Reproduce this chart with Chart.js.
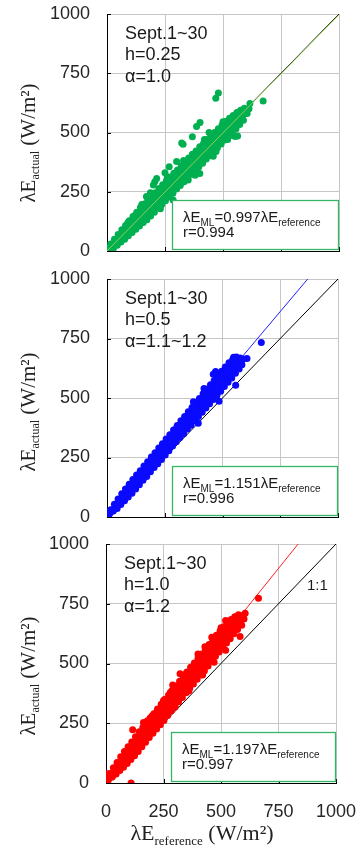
<!DOCTYPE html>
<html>
<head>
<meta charset="utf-8">
<script src="https://cdn.jsdelivr.net/npm/chart.js@4.4.0/dist/chart.umd.min.js"></script>
<style>
  body { margin: 0; background: #fff; }
  #wrap { position: relative; width: 360px; height: 845px; overflow: hidden; }
  canvas { position: absolute; left: 0; }
</style>
</head>
<body>
<div id="wrap">
  <canvas id="p1" width="360" height="265" style="top:0"></canvas>
  <canvas id="p2" width="360" height="265" style="top:265px"></canvas>
  <canvas id="p3" width="360" height="315" style="top:530px"></canvas>
</div>
<script>
// axis ticks (both axes)
const tickValues = [0, 250, 500, 750, 1000];

// panel labels
const period = 'Sept.1~30';
const hValues = ['0.25', '0.5', '1.0'];
const alphaValues = ['1.0', '1.1~1.2', '1.2'];
const slopes = [0.997, 1.151, 1.197];
const rValues = ['0.994', '0.996', '0.997'];

// [λE reference, λE actual], h = 0.25
const ptsH025 = [
  [0,6],[4,5],[8,4],[12,2],[2,0],[6,12],
  [16,30],[20,24],[24,18],[28,12],
  [32,50],[36,42],[40,30],[44,24],
  [48,70],[52,58],[56,44],[60,38],
  [64,90],[68,74],[72,60],[76,50],
  [80,108],[84,92],[88,76],[92,64],
  [96,128],[100,110],[104,92],[108,78],
  [112,146],[116,128],[120,106],[124,92],
  [128,164],[132,144],[136,122],[140,106],
  [144,184],[148,160],[152,138],[156,120],
  [160,198],[164,178],[168,152],[172,132],
  [176,214],[180,194],[184,168],[188,148],
  [192,232],[196,210],[200,186],[204,164],
  [208,246],[212,224],[216,200],[220,182],
  [224,264],[228,240],[232,218],[236,196],
  [240,280],[244,256],[248,232],[252,212],
  [256,296],[260,272],[264,250],[268,228],
  [272,312],[276,290],[280,266],[284,244],
  [288,328],[292,304],[296,280],[300,262],
  [304,342],[308,320],[312,296],[316,276],
  [320,360],[324,336],[328,312],[332,292],
  [336,374],[340,352],[344,330],[348,306],
  [352,392],[356,368],[360,344],[364,324],
  [368,408],[372,384],[376,362],[380,338],
  [384,422],[388,400],[392,376],[396,356],
  [400,440],[404,416],[408,392],[412,370],
  [416,454],[420,432],[424,410],[428,388],
  [432,470],[436,448],[440,424],[444,402],
  [448,486],[452,464],[456,440],[460,420],
  [464,500],[468,480],[472,456],[476,436],
  [480,516],[484,496],[488,470],[492,452],
  [496,532],[500,512],[504,488],[508,468],
  [512,546],[516,528],[520,504],[524,484],
  [528,560],[532,542],[536,520],[540,500],
  [544,572],[548,556],[552,536],[556,516],
  [560,584],[564,570],[568,552],[572,534],
  [576,594],[580,584],[584,566],[588,552],
  [592,602],[598,594],[604,580],[612,600],
  [10,12],[26,24],[42,44],[58,56],[74,76],[90,88],[106,104],[122,124],
  [138,134],[154,156],[170,168],[186,188],[202,198],[218,220],[234,232],
  [250,252],[266,262],[282,284],[298,296],[314,316],[330,326],[346,348],
  [362,360],[378,380],[394,390],[410,412],[426,424],[442,444],[458,454],
  [474,476],[490,488],[506,508],[522,518],[538,540],[554,552],[570,572],[586,580],
  [150,196],[260,312],[330,382],[420,470],[500,545],[230,178],[380,320],
  [470,420],[540,488],[120,150],[90,120],
  [480,667],[469,644],[673,633],[601,581],[616,622],[563,485],
  [368,482],[386,525],[401,542],[328,450],[322,456],[268,356],
  [206,292],[187,246],[214,306],[200,278],[400,327],[285,215],
  [458,400],[552,483],[250,330],[300,378],[170,230],[440,500],
  [350,300],[520,470]
];

// h = 0.5
const ptsH05 = [
  [0,12],[3,20],[6,8],[10,14],[2,4],[14,22],
  [16,30],[20,26],[24,24],[28,26],
  [32,54],[36,48],[40,40],[44,36],
  [48,76],[52,66],[56,58],[60,52],
  [64,98],[68,86],[72,76],[76,68],
  [80,118],[84,106],[88,94],[92,84],
  [96,138],[100,124],[104,112],[108,100],
  [112,158],[116,144],[120,130],[124,118],
  [128,176],[132,162],[136,148],[140,136],
  [144,194],[148,182],[152,166],[156,154],
  [160,214],[164,198],[168,186],[172,170],
  [176,232],[180,218],[184,202],[188,190],
  [192,252],[196,236],[200,220],[204,208],
  [208,270],[212,254],[216,240],[220,224],
  [224,290],[228,272],[232,258],[236,242],
  [240,308],[244,290],[248,276],[252,260],
  [256,328],[260,310],[264,294],[268,278],
  [272,346],[276,328],[280,312],[284,298],
  [288,366],[292,346],[296,330],[300,316],
  [304,384],[308,364],[312,348],[316,334],
  [320,404],[324,384],[328,368],[332,350],
  [336,422],[340,402],[344,386],[348,370],
  [352,442],[356,420],[360,404],[364,386],
  [368,460],[372,440],[376,422],[380,404],
  [384,480],[388,458],[392,440],[396,422],
  [400,498],[404,476],[408,458],[412,440],
  [416,518],[420,494],[424,476],[428,458],
  [432,536],[436,512],[440,494],[444,476],
  [448,556],[452,532],[456,512],[460,494],
  [464,574],[468,550],[472,530],[476,512],
  [480,594],[484,568],[488,548],[492,528],
  [496,612],[500,586],[504,566],[508,548],
  [512,630],[516,604],[520,584],[524,566],
  [528,648],[532,622],[536,604],[540,584],
  [544,662],[548,640],[552,622],[556,604],
  [560,672],[564,656],[568,638],[572,622],
  [576,668],[580,650],[584,640],[590,664],
  [10,12],[26,30],[42,48],[58,67],[74,85],[90,104],[106,122],[122,140],
  [138,159],[154,177],[170,196],[186,214],[202,232],[218,251],[234,269],
  [250,288],[266,306],[282,325],[298,343],[314,361],[330,380],[346,398],
  [362,417],[378,435],[394,454],[410,472],[426,490],[442,509],[458,527],
  [474,546],[490,564],[506,582],[522,601],[538,619],[554,638],[570,656],
  [200,248],[300,372],[380,466],[440,540],[520,615],[260,285],[400,440],[480,530],
  [668,733],[557,554],[485,486],[395,394],[470,611],[548,671],
  [606,666],[562,646],[374,484],[460,600],[420,540],[350,430],
  [310,380],[500,560],[530,590],[455,495]
];

// h = 1.0
const ptsH10 = [
  [0,10],[2,30],[4,4],[6,18],[0,40],[3,0],
  [16,40],[20,34],[24,24],[28,26],
  [32,64],[36,54],[40,40],[44,38],
  [48,86],[52,74],[56,58],[60,52],
  [64,110],[68,96],[72,76],[76,66],
  [80,132],[84,114],[88,94],[92,82],
  [96,152],[100,134],[104,112],[108,98],
  [112,172],[116,152],[120,132],[124,114],
  [128,194],[132,172],[136,150],[140,132],
  [144,214],[148,190],[152,170],[156,152],
  [160,232],[164,212],[168,188],[172,170],
  [176,252],[180,228],[184,206],[188,190],
  [192,272],[196,248],[200,226],[204,208],
  [208,290],[212,268],[216,246],[220,226],
  [224,310],[228,288],[232,264],[236,244],
  [240,330],[244,306],[248,284],[252,262],
  [256,350],[260,324],[264,304],[268,282],
  [272,368],[276,344],[280,322],[284,302],
  [288,388],[292,364],[296,340],[300,320],
  [304,406],[308,382],[312,360],[316,340],
  [320,426],[324,402],[328,378],[332,358],
  [336,446],[340,420],[344,398],[348,378],
  [352,464],[356,440],[360,418],[364,396],
  [368,484],[372,458],[376,436],[380,414],
  [384,502],[388,478],[392,456],[396,434],
  [400,522],[404,496],[408,474],[412,452],
  [416,540],[420,516],[424,494],[428,470],
  [432,560],[436,536],[440,512],[444,490],
  [448,580],[452,554],[456,532],[460,510],
  [464,598],[468,574],[472,552],[476,530],
  [480,618],[484,592],[488,570],[492,548],
  [496,636],[500,612],[504,590],[508,568],
  [512,654],[516,630],[520,608],[524,586],
  [528,668],[532,648],[536,626],[540,604],
  [544,684],[548,666],[552,644],[556,624],
  [560,696],[564,682],[568,662],[572,642],
  [576,704],[580,690],[584,676],[590,660],[596,700],[600,686],
  [10,12],[26,31],[42,50],[58,69],[74,89],[90,108],[106,127],[122,146],
  [138,165],[154,184],[170,203],[186,223],[202,242],[218,261],[234,280],
  [250,299],[266,318],[282,338],[298,357],[314,376],[330,395],[346,414],
  [362,433],[378,452],[394,472],[410,491],[426,510],[442,529],[458,548],
  [474,567],[490,587],[506,606],[522,625],[538,644],[554,663],[570,682],[588,700],
  [300,318],[360,385],[420,452],[470,505],[520,555],[250,268],
  [280,380],[350,460],[430,570],[500,650],[200,280],
  [663,773],[109,0],[605,710],[569,696],[583,613],[322,457],
  [221,299],[163,253],[116,223],[290,410],[400,540],[460,610],
  [520,680],[250,345],[180,260]
];

const SANS = '"Liberation Sans", Arial, sans-serif';
const SERIF = '"Liberation Serif", "Times New Roman", serif';

// draws mixed-size text (for subscripts); parts = [text, size, family, dy]
function drawRich(ctx, parts, x, y, align) {
  let w = 0;
  parts.forEach(p => { ctx.font = p[1] + 'px ' + p[2]; w += ctx.measureText(p[0]).width; });
  let cx = align === 'center' ? x - w / 2 : x;
  parts.forEach(p => {
    ctx.font = p[1] + 'px ' + p[2];
    ctx.fillText(p[0], cx, y + (p[3] || 0));
    cx += ctx.measureText(p[0]).width;
  });
}

const decorPlugin = {
  id: 'decor',
  afterDraw(chart) {
    const o = chart.options.plugins.decor;
    const ctx = chart.ctx;
    const a = chart.chartArea;
    const xs = chart.scales.x, ys = chart.scales.y;
    ctx.save();
    ctx.textAlign = 'left';
    ctx.textBaseline = 'alphabetic';

    // short inward tick marks
    ctx.strokeStyle = '#000';
    ctx.lineWidth = 1;
    ctx.beginPath();
    tickValues.slice(1).forEach(v => {
      const py = Math.round(ys.getPixelForValue(v)) + 0.5;
      ctx.moveTo(a.left, py); ctx.lineTo(a.left + 4, py);
      const px = Math.round(xs.getPixelForValue(v)) + 0.5;
      ctx.moveTo(px, a.bottom); ctx.lineTo(px, a.bottom - 4);
    });
    ctx.stroke();

    // condition labels
    ctx.fillStyle = '#1a1a1a';
    ctx.font = '18px ' + SANS;
    ctx.fillText(period, a.left + 18, a.top + 25);
    ctx.fillText('h=' + hValues[o.idx], a.left + 18, a.top + 46);
    ctx.fillText('α=' + alphaValues[o.idx], a.left + 18, a.top + 68);

    // regression box
    const bx = a.left + 65, by = a.bottom - 51, bw = a.right - 1 - bx, bh = 49;
    ctx.fillStyle = '#fff';
    ctx.fillRect(bx, by, bw, bh);
    ctx.strokeStyle = '#35b566';
    ctx.lineWidth = 1.3;
    ctx.strokeRect(bx + 0.5, by + 0.5, bw, bh);
    ctx.fillStyle = '#1a1a1a';
    drawRich(ctx, [
      ['λE', 15, SANS], ['ML', 10, SANS, 4],
      ['=' + slopes[o.idx].toFixed(3) + 'λE', 15, SANS], ['reference', 10, SANS, 4]
    ], bx + 11, by + 22);
    ctx.font = '15px ' + SANS;
    ctx.fillText('r=' + rValues[o.idx], bx + 11, by + 37);

    if (o.oneToOne) {
      ctx.font = '15px ' + SANS;
      ctx.fillText('1:1', a.right - 29, a.top + 46);
    }

    // y axis title
    ctx.fillStyle = '#222';
    ctx.save();
    ctx.translate(35, o.yTitleY);
    ctx.rotate(-Math.PI / 2);
    drawRich(ctx, [['λE', 21, SERIF], ['actual', 12, SERIF, 4], [' (W/m²)', 21, SERIF]], 0, 0, 'center');
    ctx.restore();

    // x axis title
    if (o.xTitle) {
      drawRich(ctx, [['λE', 22, SERIF], ['reference', 13, SERIF, 5], [' (W/m²)', 22, SERIF]], 202, 310, 'center');
    }
    ctx.restore();
  }
};

function makePanel(id, idx, pts, ptColor, lineColor, cfg) {
  const linesOnTop = idx === 0;
  new Chart(document.getElementById(id), {
    type: 'scatter',
    data: {
      datasets: [
        {
          type: 'line',
          data: [{ x: 0, y: 0 }, { x: 1000, y: 1000 }],
          borderColor: '#000', borderWidth: 1, pointRadius: 0, order: 3
        },
        {
          type: 'line',
          data: [{ x: 0, y: 0 }, { x: 1000, y: 1000 * slopes[idx] }],
          borderColor: lineColor, borderWidth: 1, pointRadius: 0,
          order: linesOnTop ? 0 : 2
        },
        {
          data: pts.map(p => ({ x: p[0], y: p[1] })),
          backgroundColor: ptColor, borderWidth: 0, pointRadius: 3.5,
          order: 1
        }
      ]
    },
    options: {
      responsive: false,
      animation: false,
      layout: { padding: { top: 14, right: cfg.padRight, left: 0, bottom: 0 } },
      plugins: {
        legend: { display: false },
        tooltip: { enabled: false },
        decor: { idx: idx, yTitleY: cfg.yTitleY, xTitle: cfg.xTitle, oneToOne: cfg.oneToOne }
      },
      scales: {
        x: {
          type: 'linear', min: 0, max: 1000,
          afterBuildTicks: s => { s.ticks = tickValues.map(v => ({ value: v })); },
          afterFit: s => { s.height = cfg.xHeight; s.paddingLeft = 0; s.paddingRight = 0; },
          ticks: { display: cfg.xTitle, padding: 18, color: '#262626', font: { family: SANS, size: 18 }, callback: v => String(v) },
          grid: { color: '#c6c6c6', drawTicks: false },
          border: { color: '#000', width: 1 }
        },
        y: {
          type: 'linear', min: 0, max: 1000,
          afterBuildTicks: s => { s.ticks = tickValues.map(v => ({ value: v })); },
          afterFit: s => { s.width = cfg.yWidth; s.paddingTop = 0; s.paddingBottom = 0; },
          ticks: { padding: 17, color: '#262626', font: { family: SANS, size: 18 }, callback: v => String(v) },
          grid: { color: '#c6c6c6', drawTicks: false },
          border: { color: '#000', width: 1 }
        }
      }
    },
    plugins: [decorPlugin]
  });
}

makePanel('p1', 0, ptsH025, '#00b050', '#92d050', { padRight: 21, yWidth: 107, xHeight: 14, yTitleY: 143, xTitle: false, oneToOne: false });
makePanel('p2', 1, ptsH05, '#0a0aff', '#2020ff', { padRight: 22, yWidth: 107, xHeight: 13, yTitleY: 147, xTitle: false, oneToOne: false });
makePanel('p3', 2, ptsH10, '#ff0000', '#ff2020', { padRight: 24, yWidth: 106, xHeight: 62, yTitleY: 146, xTitle: true, oneToOne: true });
</script>
</body>
</html>
